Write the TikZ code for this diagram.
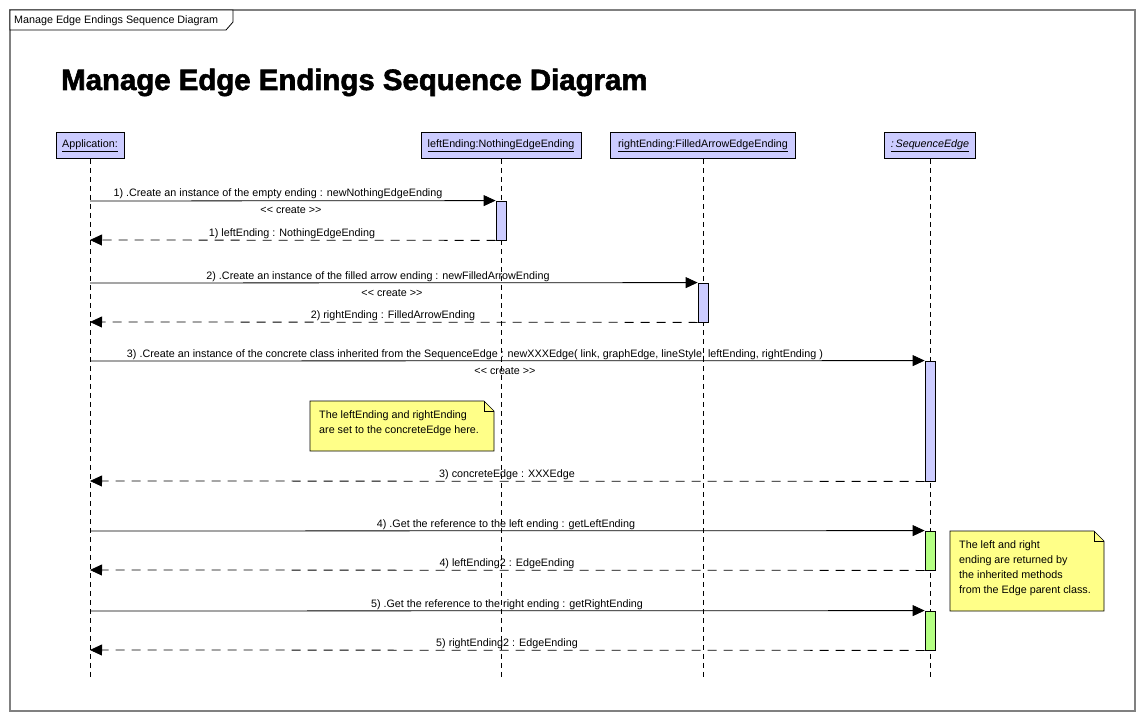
\documentclass[tikz,border=0pt]{standalone}
\usepackage{fontspec}
\setmainfont{Liberation Sans}
\newfontfamily\titlefont[FakeBold=2]{Liberation Sans Bold}
\usetikzlibrary{arrows.meta}
\definecolor{actblue}{HTML}{CCCCFF}
\definecolor{actgreen}{HTML}{B4FF82}
\definecolor{noteyellow}{HTML}{FFFF88}
\definecolor{framegray}{HTML}{808080}
\begin{document}
\begin{tikzpicture}[x=1bp,y=-1bp,
  lbl/.style={font=\fontsize{10.8}{13}\selectfont, inner sep=0pt, anchor=base},
  head/.style={draw=black, fill=actblue, minimum height=26bp, inner xsep=4bp, font=\fontsize{10.8}{13}\selectfont, anchor=north, line width=0.8bp},
  life/.style={dash pattern=on 5bp off 4bp, line width=0.8bp},
  msg/.style={-{Triangle[length=12bp,width=11bp]}, line width=0.8bp},
  ret/.style={msg, dash pattern=on 9bp off 7bp},
  act/.style={draw, fill=actblue, minimum width=10bp, inner sep=0pt, line width=0.8bp},
  actg/.style={act, fill=actgreen},
  note/.style={draw, fill=noteyellow, line width=0.6bp},
  notetext/.style={font=\fontsize{10.8}{15}\selectfont, align=left, anchor=north west, inner sep=0pt},
]
\useasboundingbox (0,0) rectangle (1145,721);
\fill[white] (0,0) rectangle (1145,721);
% frame
\draw[framegray, line width=1.2bp] (10,10) rectangle (1135,711);
\draw[black, fill=white, line width=0.8bp] (10,10) -- (233,10) -- (233,22) -- (226,30) -- (10,30) -- cycle;
\node[font=\fontsize{10.8}{13}\selectfont, anchor=west, inner sep=0pt] (tab) at (14,20.5) {Manage Edge Endings Sequence Diagram};
% title
\node[font=\fontsize{29.5}{33}\titlefont, anchor=base west, inner sep=0pt] (title) at (61,90) {Manage Edge Endings Sequence Diagram};
% headers
\node[head, minimum width=68bp] (app) at (90,132) {\underline{Application:}};
\node[head, minimum width=160bp] (left) at (501,132) {\underline{leftEnding:NothingEdgeEnding}};
\node[head, minimum width=185bp] (right) at (703,132) {\underline{rightEnding:FilledArrowEdgeEnding}};
\node[head, minimum width=91bp] (seq) at (930,132) {\underline{\itshape :\,SequenceEdge}};
% lifeline ends
\coordinate (appE) at (90,677);
\coordinate (leftE) at (501,677);
\coordinate (rightE) at (703,677);
\coordinate (seqE) at (930,677);
\draw[life] (app.south) -- (appE);
\draw[life] (left.south) -- (leftE);
\draw[life] (right.south) -- (rightE);
\draw[life] (seq.south) -- (seqE);
% activations
\node[act, minimum height=39bp] (a1) at (501,220.5) {};
\node[act, minimum height=39bp] (a2) at (703,302.5) {};
\node[act, minimum height=120bp] (a3) at (930,421) {};
\node[actg, minimum height=39bp] (a4) at (930,550.5) {};
\node[actg, minimum height=39bp] (a5) at (930,630.5) {};
% application side points
\coordinate (s1) at (90,201);
\coordinate (r1) at (90,240);
\coordinate (s2) at (90,283);
\coordinate (r2) at (90,322);
\coordinate (s3) at (90,361);
\coordinate (r3) at (90,481);
\coordinate (s4) at (90,531);
\coordinate (r4) at (90,570);
\coordinate (s5) at (90,611);
\coordinate (r5) at (90,650);
% messages
\draw[msg] (s1) -- (a1.north west);
\draw[ret] (a1.south west) -- (r1);
\draw[msg] (s2) -- (a2.north west);
\draw[ret] (a2.south west) -- (r2);
\draw[msg] (s3) -- (a3.north west);
\draw[ret] (a3.south west) -- (r3);
\draw[msg] (s4) -- (a4.north west);
\draw[ret] (a4.south west) -- (r4);
\draw[msg] (s5) -- (a5.north west);
\draw[ret] (a5.south west) -- (r5);
% labels
\node[lbl] (l1) at (278,197) {1) .Create an instance of the empty ending : newNothingEdgeEnding};
\node[lbl] (c1) at (291,214) {{<}{<} create {>}{>}};
\node[lbl] (l1r) at (292,236) {1) leftEnding : NothingEdgeEnding};
\node[lbl] (l2) at (378,279) {2) .Create an instance of the filled arrow ending : newFilledArrowEnding};
\node[lbl] (c2) at (392,296) {{<}{<} create {>}{>}};
\node[lbl] (l2r) at (393,318) {2) rightEnding : FilledArrowEnding};
\node[lbl] (l3) at (475,357) {3) .Create an instance of the concrete class inherited from the SequenceEdge : newXXXEdge( link, graphEdge, lineStyle, leftEnding, rightEnding )};
\node[lbl] (c3) at (505,374) {{<}{<} create {>}{>}};
\node[lbl] (l3r) at (507,477) {3) concreteEdge : XXXEdge};
\node[lbl] (l4) at (506,527) {4) .Get the reference to the left ending : getLeftEnding};
\node[lbl] (l4r) at (507,566) {4) leftEnding2 : EdgeEnding};
\node[lbl] (l5) at (507,607) {5) .Get the reference to the right ending : getRightEnding};
\node[lbl] (l5r) at (507,646) {5) rightEnding2 : EdgeEnding};
% note 1
\draw[note] (310,401) -- (484,401) -- (494,411) -- (494,451) -- (310,451) -- cycle;
\draw[line width=0.6bp] (484,401) -- (484,411) -- (494,411);
\node[notetext] (n1) at (319,411) {The leftEnding and rightEnding\\are set to the concreteEdge here.};
% note 2
\draw[note] (950,531) -- (1094,531) -- (1104,541) -- (1104,611) -- (950,611) -- cycle;
\draw[line width=0.6bp] (1094,531) -- (1094,541) -- (1104,541);
\node[notetext] (n2) at (959,541) {The left and right\\ending are returned by\\the inherited methods\\from the Edge parent class.};
\end{tikzpicture}
\end{document}
